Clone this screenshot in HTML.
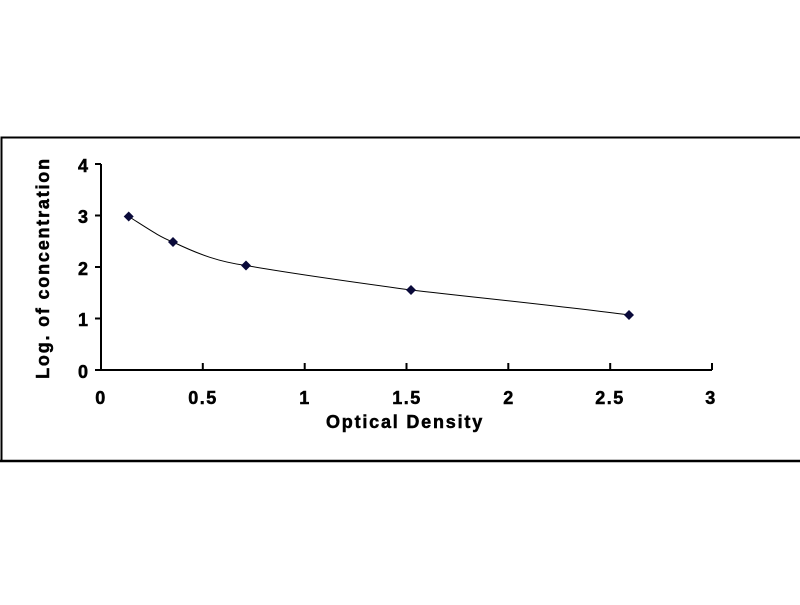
<!DOCTYPE html>
<html><head><meta charset="utf-8"><style>body{margin:0;background:#fff}</style></head>
<body>
<svg width="800" height="600" xmlns="http://www.w3.org/2000/svg" font-family="Liberation Sans, Arial, sans-serif" font-weight="bold">
<rect x="0" y="0" width="800" height="600" fill="#fff"/>
<path d="M1.5 461 V137.5 H802" fill="none" stroke="#000" stroke-width="2"/>
<line x1="0" y1="461" x2="800" y2="461" stroke="#000" stroke-width="2.5"/>
<g stroke="#000" stroke-width="2" fill="none">
<path d="M101 164 V370 H712"/>
<path d="M95 164 H101 M95 215.5 H101 M95 267 H101 M95 318.5 H101 M95 370 H101"/>
<path d="M202.8 370 V363 M304.7 370 V363 M406.5 370 V363 M508.3 370 V363 M610.2 370 V363 M712 370 V363"/>
</g>
<g font-size="18" text-anchor="end" fill="#000" stroke="#000" stroke-width="0.5">
<text x="88" y="172">4</text><text x="88" y="223">3</text><text x="88" y="275">2</text><text x="88" y="326">1</text><text x="88" y="378">0</text>
</g>
<g font-size="18" text-anchor="middle" fill="#000" stroke="#000" stroke-width="0.5" letter-spacing="1.5">
<text x="101" y="404">0</text><text x="203" y="404">0.5</text><text x="305" y="404">1</text><text x="407" y="404">1.5</text><text x="509" y="404">2</text><text x="610" y="404">2.5</text><text x="711" y="404">3</text>
</g>
<text x="405" y="428" font-size="18" text-anchor="middle" letter-spacing="1.8" stroke="#000" stroke-width="0.5">Optical Density</text>
<text transform="translate(49,268) rotate(-90)" font-size="18" text-anchor="middle" letter-spacing="1.8" stroke="#000" stroke-width="0.5">Log. of concentration</text>
<path d="M128.7 216.5 C150 230 160 237 173 242 C200 255 220 262 246 265.5 C300 275 360 283 411 290 C480 298 560 306 629 315" fill="none" stroke="#000" stroke-width="1"/>
<g fill="#0a0a3a">
<path d="M128.7 211.5 L133.7 216.5 L128.7 221.5 L123.7 216.5Z"/>
<path d="M173 237 L178 242 L173 247 L168 242Z"/>
<path d="M246 260.5 L251 265.5 L246 270.5 L241 265.5Z"/>
<path d="M411 285 L416 290 L411 295 L406 290Z"/>
<path d="M629 310 L634 315 L629 320 L624 315Z"/>
</g>
</svg>
</body></html>
